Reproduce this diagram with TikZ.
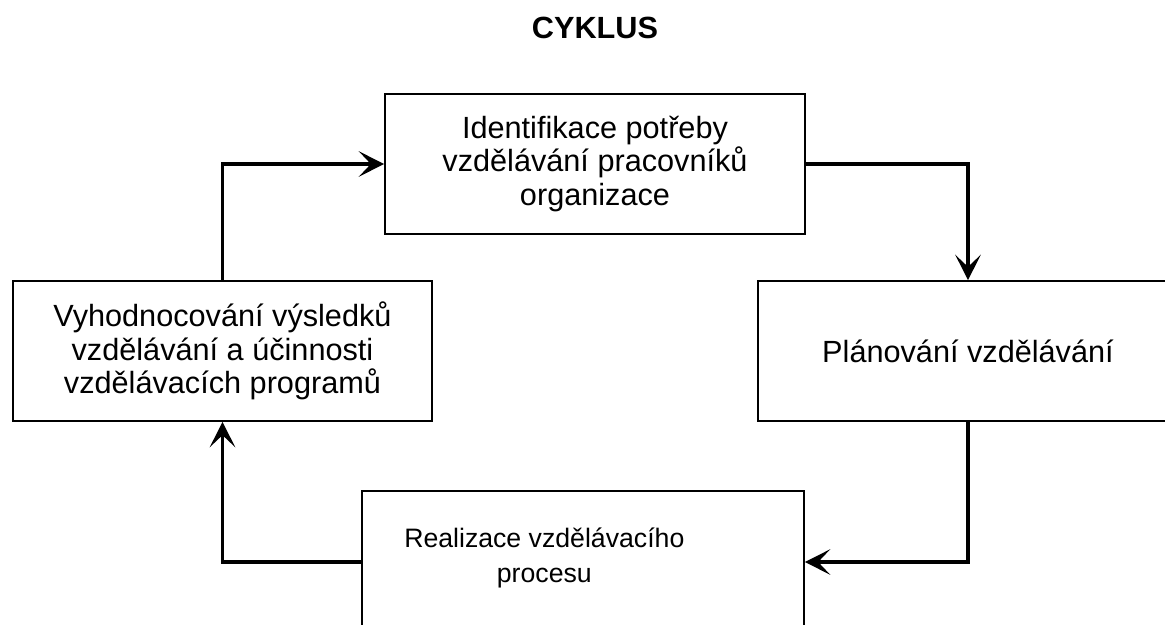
\documentclass[tikz,border=0pt]{standalone}
\usepackage{fontspec}
\setmainfont{Liberation Sans}
\usetikzlibrary{arrows.meta}

\begin{document}
\begin{tikzpicture}[x=0.75pt, y=-0.75pt, >={Stealth[length=19pt, width=19pt, inset=9pt]},
        font=\fontsize{23}{25}\selectfont]
        \tikzstyle{stage} = [draw=black, line width=1.2pt, align=center, minimum width=315pt, minimum height=105pt]
        \tikzstyle{flow} = [->, line width=2.5pt]
        \useasboundingbox (0,0) rectangle (1165,625);
        \clip (0,0) rectangle (1165,625);
        \node[font=\fontsize{23}{25}\selectfont\bfseries] (0) at (595,28) {CYKLUS};
        \node[stage] (1) at (595,164) {Identifikace potřeby\\vzdělávání pracovníků\\organizace};
        \node[stage] (2) at (968,351) {Plánování vzdělávání};
        \node[stage, minimum width=331.5pt, minimum height=106.5pt,
              label = {[align=center, font=\fontsize{20}{26}\selectfont, xshift=-29pt, yshift=3pt] center: Realizace vzdělávacího\\procesu}] (3) at (583,562) {};
        \node[stage, minimum width=314pt] (4) at (222.5,351) {Vyhodnocování výsledků\\vzdělávání a účinnosti\\vzdělávacích programů};
        \draw[flow] (1.east) -| (2.north);
        \draw[flow] (2.south) |- (3.east);
        \draw[flow] (3.west) -| (4.south);
        \draw[flow] (4.north) |- (1.west);
\end{tikzpicture}
\end{document}
